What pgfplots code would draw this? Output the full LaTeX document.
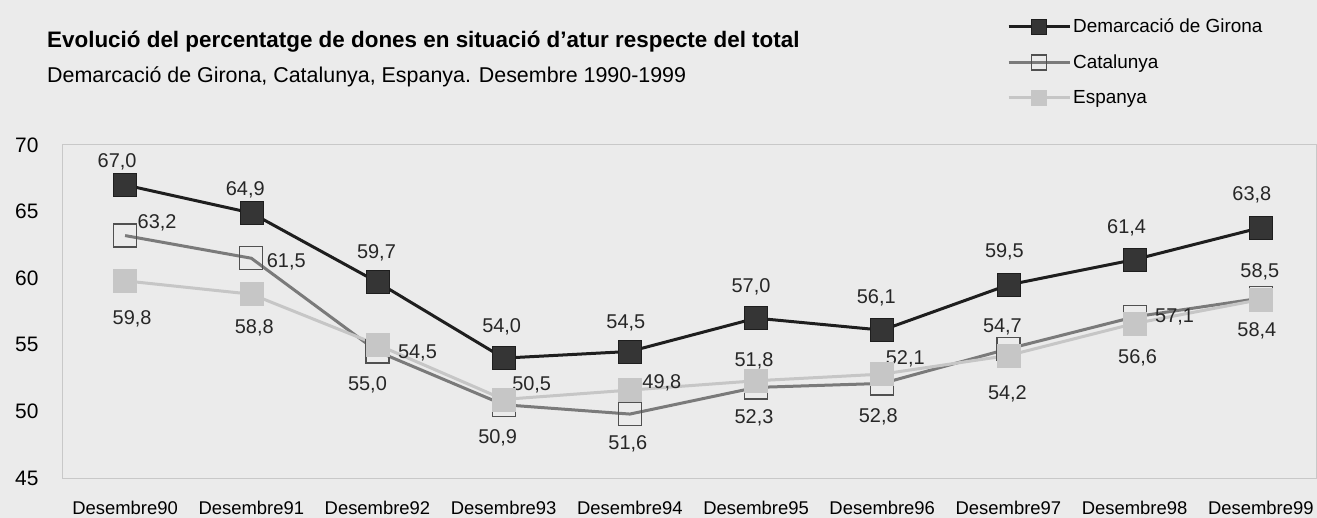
\documentclass[border=0pt]{standalone}
\usepackage{pgfplots}
\usepackage{fontspec}
\setmainfont{Liberation Sans}
\pgfplotsset{compat=1.18}
\definecolor{bg}{HTML}{EBEBEB}
\definecolor{gir}{HTML}{1E1E1E}
\definecolor{catl}{HTML}{7A7A7A}
\definecolor{catm}{HTML}{505050}
\definecolor{esp}{HTML}{C6C6C6}
\definecolor{frame}{HTML}{C8C8C8}

\newcommand\lab[5]{\node[inner sep=0, font=\fontsize{20}{22}\selectfont, text=black!85, xshift=#3bp, yshift=#4bp] at (axis cs:#1,#2) {#5};}

\pgfplotsset{
  girst/.style={color=gir, line width=3bp, mark=square*, mark options={fill=gir!90, draw=gir, line width=0.5bp}},
  catst/.style={color=catl, line width=3bp, mark=square, mark options={draw=catm, line width=1.2bp}},
  espst/.style={color=esp, line width=3bp, mark=square*, mark options={fill=esp, draw=esp, line width=0.5bp}},
}

\begin{document}
\begin{tikzpicture}
\fill[bg] (0bp,0bp) rectangle (1317bp,518bp);
\useasboundingbox (0bp,0bp) rectangle (1317bp,518bp);
\node[anchor=base west, inner sep=0, font=\fontsize{22.5}{26}\selectfont\bfseries] at (47bp,470bp) {Evolució del percentatge de dones en situació d'atur respecte del total};
\node[anchor=base west, inner sep=0, font=\fontsize{21.5}{25}\selectfont] at (47bp,435bp) {Demarcació de Girona, Catalunya, Espanya. Desembre 1990-1999};
\begin{axis}[
  at={(62bp,40bp)}, anchor=south west,
  scale only axis, width=1255bp, height=333bp,
  xmin=-0.5, xmax=9.445, ymin=45, ymax=70,
  axis line style={draw=frame, line width=1bp},
  major tick length=0pt,
  ytick={45,50,55,60,65,70},
  xtick={0,...,9},
  xticklabels={Desembre90,Desembre91,Desembre92,Desembre93,Desembre94,Desembre95,Desembre96,Desembre97,Desembre98,Desembre99},
  /pgf/number format/assume math mode=true,
  yticklabel style={font=\fontsize{21}{24}\selectfont, xshift=-20bp},
  xticklabel style={font=\fontsize{18.5}{21}\selectfont, yshift=-20bp},
  clip=false,
  legend style={at={(0.753,1.385)}, anchor=north west, draw=none, fill=none,
    font=\fontsize{19}{22}\selectfont, row sep=16.5bp, inner sep=0pt},
  legend cell align=left,
  legend image code/.code={\draw[#1, mark size=7.5bp, mark repeat=2, mark phase=2] plot coordinates {(0bp,0bp) (30bp,0bp) (61bp,0bp)};},
]
\addplot[girst, mark size=11.5bp] coordinates {(0,67.0) (1,64.9) (2,59.7) (3,54.0) (4,54.5) (5,57.0) (6,56.1) (7,59.5) (8,61.4) (9,63.8)};
\addlegendentry{Demarcació de Girona}
\addplot[catst, mark size=11.5bp] coordinates {(0,63.2) (1,61.5) (2,54.5) (3,50.5) (4,49.8) (5,51.8) (6,52.1) (7,54.7) (8,57.1) (9,58.5)};
\addlegendentry{Catalunya}
\addplot[espst, mark size=11.5bp] coordinates {(0,59.8) (1,58.8) (2,55.0) (3,50.9) (4,51.6) (5,52.3) (6,52.8) (7,54.2) (8,56.6) (9,58.4)};
\addlegendentry{Espanya}
% labels Girona
\lab{0}{67.0}{-8}{23}{67,0}
\lab{1}{64.9}{-6}{23}{64,9}
\lab{2}{59.7}{-1}{29}{59,7}
\lab{3}{54.0}{-2}{31}{54,0}
\lab{4}{54.5}{-4}{29}{54,5}
\lab{5}{57.0}{-5}{31}{57,0}
\lab{6}{56.1}{-6}{32}{56,1}
\lab{7}{59.5}{-4}{33}{59,5}
\lab{8}{61.4}{-8}{32}{61,4}
\lab{9}{63.8}{-9}{33}{63,8}
% labels Catalunya
\lab{0}{63.2}{32}{13}{63,2}
\lab{1}{61.5}{35}{-4}{61,5}
\lab{2}{54.5}{40}{-1}{54,5}
\lab{3}{50.5}{28}{20}{50,5}
\lab{4}{49.8}{32}{31}{49,8}
\lab{5}{51.8}{-2}{27}{51,8}
\lab{6}{52.1}{23}{25}{52,1}
\lab{7}{54.7}{-6}{22}{54,7}
\lab{8}{57.1}{40}{0}{57,1}
\lab{9}{58.5}{-1}{26}{58,5}
% labels Espanya
\lab{0}{59.8}{7}{-38}{59,8}
\lab{1}{58.8}{3}{-34}{58,8}
\lab{2}{55.0}{-10}{-40}{55,0}
\lab{3}{50.9}{-6}{-38}{50,9}
\lab{4}{51.6}{-2}{-54}{51,6}
\lab{5}{52.3}{-2}{-37}{52,3}
\lab{6}{52.8}{-4}{-43}{52,8}
\lab{7}{54.2}{-1}{-38}{54,2}
\lab{8}{56.6}{3}{-34}{56,6}
\lab{9}{58.4}{-4}{-31}{58,4}
\end{axis}
\end{tikzpicture}
\end{document}
